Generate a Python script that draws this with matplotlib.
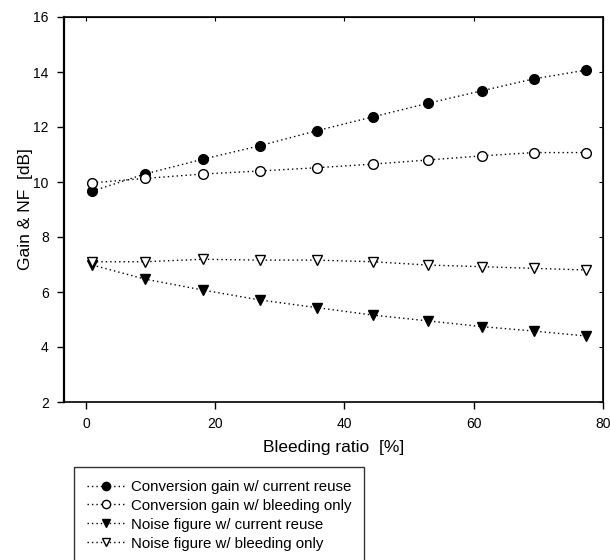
import matplotlib
matplotlib.use('Agg')
import matplotlib.pyplot as plt

plt.rcParams['font.family'] = ['Liberation Sans', 'DejaVu Sans']

# Bleeding ratio [%]
bleed = [1.0, 9.1, 18.1, 26.9, 35.8, 44.4, 52.9, 61.3, 69.3, 77.4]

gain_reuse = [9.67, 10.29, 10.83, 11.32, 11.87, 12.37, 12.86, 13.32, 13.75, 14.07]
gain_bleed = [9.97, 10.13, 10.29, 10.40, 10.52, 10.65, 10.80, 10.95, 11.07, 11.07]
nf_reuse = [6.98, 6.47, 6.07, 5.71, 5.43, 5.16, 4.95, 4.74, 4.58, 4.40]
nf_bleed = [7.10, 7.10, 7.19, 7.16, 7.16, 7.10, 6.98, 6.92, 6.86, 6.80]

labels = ['Conversion gain w/ current reuse',
          'Conversion gain w/ bleeding only',
          'Noise figure w/ current reuse',
          'Noise figure w/ bleeding only']

xticks = [0, 20, 40, 60, 80]
yticks = [2, 4, 6, 8, 10, 12, 14, 16]

fig = plt.figure(figsize=(6.1, 5.6), dpi=100)
ax = fig.add_axes([64 / 610, 1 - 402 / 560, (603 - 64) / 610, (402 - 17) / 560])

ls = (0, (1, 2.2))
kw = dict(color='black', linestyle=ls, lw=1.0, markersize=7,
          markeredgecolor='black', markeredgewidth=1.0)
h1, = ax.plot(bleed, gain_reuse, marker='o', markerfacecolor='black', **kw)
h2, = ax.plot(bleed, gain_bleed, marker='o', markerfacecolor='white', **kw)
h3, = ax.plot(bleed, nf_reuse, marker='v', markerfacecolor='black', **kw)
h4, = ax.plot(bleed, nf_bleed, marker='v', markerfacecolor='white', **kw)

ax.set_xlim(-3.4, 80)
ax.set_ylim(2, 16)
ax.set_xticks(xticks)
ax.set_yticks(yticks)

for s in ax.spines.values():
    s.set_linewidth(1.2)
ax.spines['left'].set_linewidth(1.6)
ax.tick_params(axis='both', which='major', direction='out', length=5, width=1,
               labelsize=10, pad=6)

# inward ticks on top and right
top = ax.secondary_xaxis('top')
top.set_xticks(xticks)
top.tick_params(direction='in', length=3, width=0.8, labeltop=False)
right = ax.secondary_yaxis('right')
right.set_yticks(yticks)
right.tick_params(direction='in', length=3, width=0.8, labelright=False)

ax.set_xlabel('Bleeding ratio  [%]', fontsize=12.5, labelpad=6)
ax.set_ylabel('Gain & NF  [dB]', fontsize=12.5, labelpad=0)

leg = fig.legend([h1, h2, h3, h4], labels, loc='upper left',
                 bbox_to_anchor=(74 / 610, 1 - 467 / 560), borderaxespad=0,
                 fontsize=10.8, frameon=True, fancybox=False,
                 edgecolor='black', handlelength=2.6, handletextpad=0.35,
                 labelspacing=0.33, borderpad=0.85, markerscale=0.85)
leg.get_frame().set_linewidth(1.0)

fig.savefig('out.png', dpi=100, facecolor='white')
